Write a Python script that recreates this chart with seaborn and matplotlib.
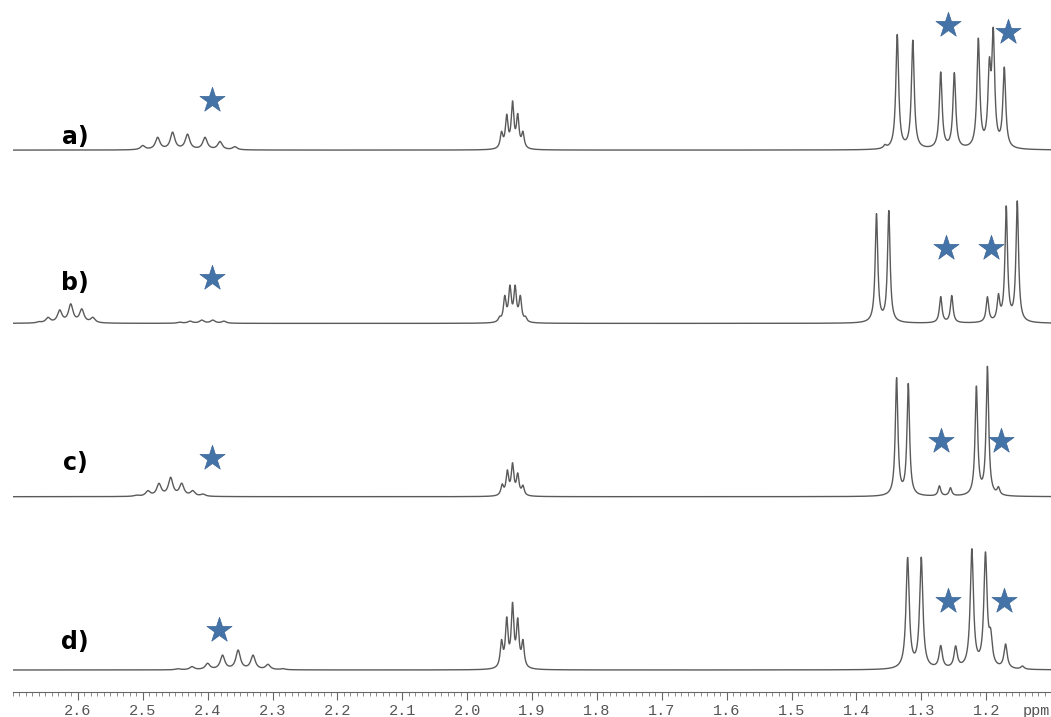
import numpy as np
import matplotlib
matplotlib.use('Agg')
import matplotlib.pyplot as plt
from matplotlib.ticker import MultipleLocator
import seaborn as sns

# peak positions (ppm) and heights
a_ppm = [2.500, 2.477, 2.454, 2.431, 2.404, 2.381, 2.358,
         1.947, 1.939, 1.930, 1.922, 1.914,
         1.356, 1.337, 1.313, 1.270, 1.249, 1.212, 1.195, 1.189, 1.172]
a_int = [4, 12, 17, 15, 12, 8, 3,
         15, 31, 44, 31, 15,
         3, 114, 108, 76, 75, 108, 72, 108, 79]

b_ppm = [2.660, 2.646, 2.628, 2.611, 2.594, 2.577, 2.443, 2.427, 2.409, 2.392, 2.375,
         1.950, 1.942, 1.934, 1.926, 1.918, 1.910,
         1.369, 1.350, 1.270, 1.253, 1.198, 1.181, 1.169, 1.152]
b_int = [1, 5, 12, 18, 13, 5, 1, 2, 3, 3, 2,
         4, 24, 33, 33, 24, 4,
         108, 111, 26, 27, 25, 24, 114, 120]

c_ppm = [2.510, 2.492, 2.475, 2.457, 2.440, 2.423, 2.407,
         1.946, 1.938, 1.930, 1.922, 1.914,
         1.338, 1.320, 1.272, 1.255, 1.215, 1.198, 1.181]
c_int = [1, 5, 12, 18, 12, 5, 2,
         10, 23, 30, 20, 9,
         117, 111, 10, 8, 108, 128, 7]

d_ppm = [2.446, 2.424, 2.400, 2.377, 2.353, 2.330, 2.307, 2.284,
         1.947, 1.939, 1.930, 1.922, 1.914,
         1.321, 1.300, 1.270, 1.247, 1.222, 1.201, 1.193, 1.170, 1.144]
d_int = [1, 3, 6, 14, 19, 14, 5, 1,
         25, 46, 60, 44, 25,
         110, 110, 22, 21, 118, 112, 26, 24, 3]

labels = ['a)', 'b)', 'c)', 'd)']
label_height = [13, 40, 34, 28]

# starred peaks (ppm) and star height above baseline
star_ppm = [[2.393, 1.259, 1.166],
            [2.393, 1.262, 1.193],
            [2.393, 1.270, 1.177],
            [2.382, 1.259, 1.172]]
star_height = [[50, 125, 118],
               [45, 75, 75],
               [39, 56, 56],
               [40, 69, 69]]

tick_values = [2.6, 2.5, 2.4, 2.3, 2.2, 2.1, 2.0, 1.9, 1.8, 1.7, 1.6, 1.5, 1.4, 1.3, 1.2]

all_ppm = [a_ppm, b_ppm, c_ppm, d_ppm]
all_int = [a_int, b_int, c_int, d_int]
ch3_width = [0.0026, 0.0024, 0.0024, 0.0030]


def spectrum(grid, centers, heights, gamma_ch3):
    """
    Sum of lorentzian lines.
    """
    y = np.zeros_like(grid)
    for c, h in zip(centers, heights):
        if c > 2.2:
            g = 0.0042
        elif c > 1.8:
            g = 0.0024
        else:
            g = gamma_ch3
        y += h * g ** 2 / ((grid - c) ** 2 + g ** 2)
    return y


sns.set_style('white')

fig = plt.figure(figsize=(10.51, 7.17), dpi=100)
ax = fig.add_axes([13 / 1051, 25 / 717, 1 - 13 / 1051, 692 / 717])

grid = np.linspace(2.70, 1.10, 8000)
offsets = [22 + 173.3 * (3 - i) for i in range(4)]

for i in range(4):
    y = spectrum(grid, all_ppm[i], all_int[i], ch3_width[i]) + offsets[i]
    sns.lineplot(x=grid, y=y, ax=ax, color='#5a5a5a', linewidth=1.0,
                 estimator=None, sort=False)
    sns.scatterplot(x=star_ppm[i],
                    y=[offsets[i] + h for h in star_height[i]],
                    ax=ax, marker='*', s=360, color='#4473a8',
                    edgecolor='#3a6596', linewidth=0.5, zorder=5)
    ax.text(2.604, offsets[i] + label_height[i], labels[i], fontsize=17,
            fontweight='bold', ha='center', va='center', color='black',
            family='DejaVu Sans')

ax.set_xlim(2.70, 1.10)
ax.set_ylim(0, 692)
ax.set_yticks([])
for side in ['left', 'right', 'top']:
    ax.spines[side].set_visible(False)
ax.spines['bottom'].set_color('#666666')
ax.spines['bottom'].set_linewidth(0.8)

ax.set_xticks(tick_values)
ax.set_xticklabels(['%.1f' % v for v in tick_values], family='Liberation Mono')
ax.xaxis.set_minor_locator(MultipleLocator(0.01))
ax.tick_params(axis='x', which='major', bottom=True, direction='out',
               length=6, width=0.8, color='#666666', labelcolor='#555555',
               pad=2.5, labelsize=11)
ax.tick_params(axis='x', which='minor', bottom=True, direction='out',
               length=3, width=0.6, color='#777777')
ax.text(1.123, -0.027, 'ppm', transform=ax.get_xaxis_transform(),
        ha='center', va='center', fontsize=11, color='#555555',
        family='Liberation Mono')
ax.set_xlabel('')
ax.set_ylabel('')

fig.savefig('out.png', dpi=100)
